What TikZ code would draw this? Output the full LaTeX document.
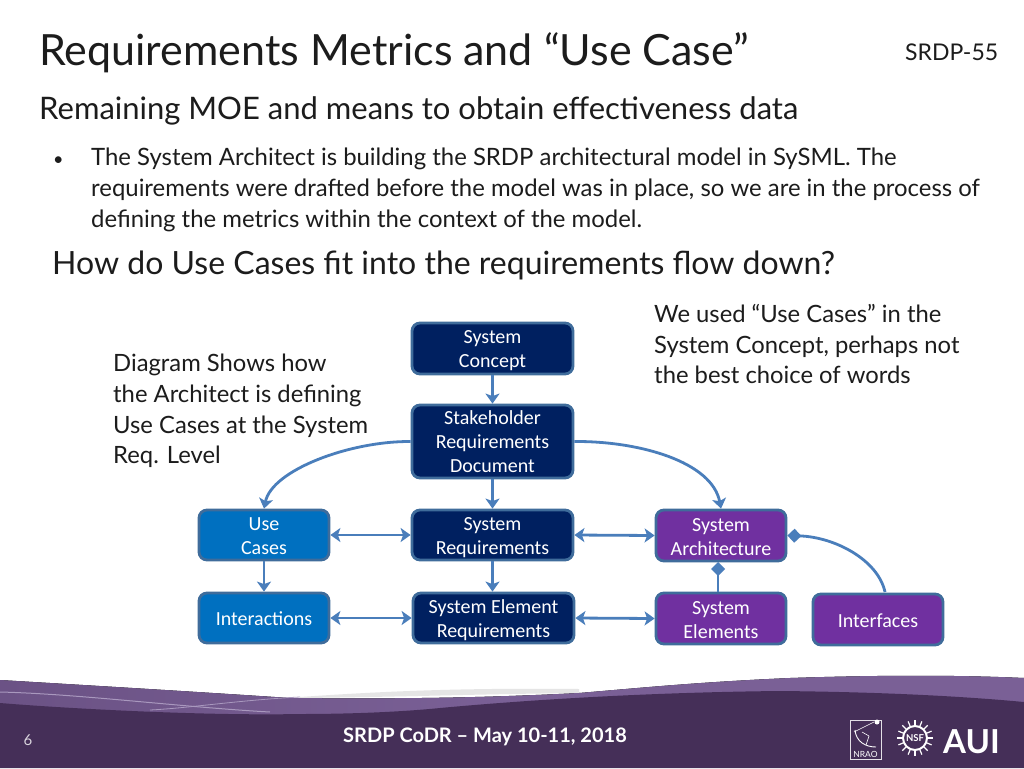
\documentclass[tikz,border=0pt]{standalone}
\usepackage{fontspec}
\setmainfont{Lato}
\newfontfamily\labelfont{Carlito}
\usetikzlibrary{arrows.meta}
\definecolor{navybox}{HTML}{002060}
\definecolor{bluebox}{HTML}{0070C0}
\definecolor{purplebox}{HTML}{7030A0}
\definecolor{edgeblue}{HTML}{3F6C9B}
\definecolor{linkblue}{HTML}{4A7EBB}
\definecolor{inktext}{HTML}{1C1C1C}
\definecolor{footdark}{HTML}{452F58}
\definecolor{footmid}{HTML}{7A6096}
\definecolor{footleft}{HTML}{6B5285}
\definecolor{footlight}{HTML}{A998BE}
\newcommand\dn[2]{\raisebox{-#1}[\height][\depth]{#2}}
\tikzset{
  x=1pt,y=-1pt,
  flowbox/.style={draw=edgeblue,line width=2.8pt,rounded corners=8pt,text=white,align=center,
    inner sep=0pt,font=\labelfont\fontsize{20}{24}\selectfont},
  navy/.style={flowbox,fill=navybox,minimum width=161pt},
  blue/.style={flowbox,fill=bluebox,minimum width=130pt,minimum height=50pt},
  purple/.style={flowbox,fill=purplebox,minimum width=130pt,minimum height=50pt},
  link/.style={draw=linkblue,line width=2.8pt},
  one/.style={link,-{Stealth[length=10pt,width=14pt,inset=2.5pt]}},
  both/.style={link,{Stealth[length=10pt,width=14pt,inset=2.5pt]}-{Stealth[length=10pt,width=14pt,inset=2.5pt]}},
  dia/.style={link,-{Diamond[length=14pt,width=14pt]}},
  body/.style={anchor=base west,inner sep=0pt,text=inktext,align=left},
}
\begin{document}
\begin{tikzpicture}
\useasboundingbox (0,0) rectangle (1024,768);
\fill[white] (0,0) rectangle (1024,768);
% footer
\fill[gray!20] (300,697) .. controls (400,690) and (480,688) .. (579,689) -- (579,693) .. controls (480,694) and (400,697) .. (300,698) -- cycle;
\fill[left color=footleft,right color=footmid,middle color=footmid] (0,680) .. controls (100,686) and (200,692) .. (290,698) .. controls (400,699) and (480,698) .. (579,693) .. controls (650,687) and (700,682) .. (790,678) .. controls (880,675) and (960,675) .. (1024,678) -- (1024,720) -- (0,720) -- cycle;
\draw[footlight,line width=1pt] (0,692) .. controls (80,694) and (180,707) .. (270,712);
\draw[footlight,line width=.8pt] (150,710) .. controls (190,708) and (240,700) .. (300,697);
\fill[footdark] (0,703) .. controls (60,708) and (200,716) .. (300,714) .. controls (350,714) and (400,712) .. (440,708) .. controls (560,697) and (680,692) .. (780,691) .. controls (880,692) and (960,696) .. (1024,702) -- (1024,768) -- (0,768) -- cycle;
% titles
\node[body,font=\fontsize{43}{50}\selectfont] (title) at (39,65) {Requirements Metrics and “Use Case”};
\node[body,font=\fontsize{23}{28}\selectfont] (tag) at (905,60) {SRDP-55};
\node[body,font=\fontsize{31}{36}\selectfont] (sub) at (39,119) {Remaining MOE and means to obtain effectiveness data};
\node[body,font=\fontsize{18}{31}\selectfont] (bullet) at (53,165) {•};
\node[body,font=\fontsize{23.9}{31}\selectfont,anchor=north west] (para) at (91,148) {The System Architect is building the SRDP architectural model in SySML. The\\requirements were drafted before the model was in place, so we are in the process of\\defining the metrics within the context of the model.};
\node[body,font=\fontsize{32}{38}\selectfont] (q) at (52,274) {How do Use Cases fit into the requirements flow down?};
\node[body,font=\fontsize{23.8}{30.7}\selectfont,anchor=north west] (left) at (113,354) {Diagram Shows how\\the Architect is defining\\Use Cases at the System\\Req. Level};
\node[body,font=\fontsize{23.8}{30.7}\selectfont,anchor=north west] (right) at (654,304) {We used “Use Cases” in the\\System Concept, perhaps not\\the best choice of words};
% boxes
\node[navy,minimum height=51pt] (concept) at (492.5,348.5) {\dn{2pt}{System}\\\dn{2pt}{Concept}};
\node[navy,minimum height=73pt] (stake) at (492.5,441.5) {Stakeholder\\Requirements\\Document};
\node[navy,minimum height=50pt] (sysreq) at (492.5,535) {\dn{3pt}{System}\\\dn{3pt}{Requirements}};
\node[navy,minimum height=50pt] (elemreq) at (493.5,618) {\dn{2pt}{System Element}\\\dn{2pt}{Requirements}};
\node[blue] (use) at (264,535) {\dn{1pt}{Use}\\\dn{1pt}{Cases}};
\node[blue] (inter) at (264,618) {\dn{1pt}{Interactions}};
\node[purple,minimum height=51pt] (arch) at (721,535.5) {\dn{2pt}{System}\\\dn{2pt}{Architecture}};
\node[purple,minimum height=51pt] (elems) at (721,618.5) {\dn{2pt}{System}\\\dn{2pt}{Elements}};
\node[purple,minimum height=51pt] (ifaces) at (878,619.5) {\dn{1pt}{Interfaces}};
% connectors
\draw[one] (concept.south) -- (stake.north);
\draw[one] (stake.south) -- (sysreq.north);
\draw[one] (sysreq.south) -- (elemreq.north -| sysreq.south);
\draw[one] (use.south) -- (inter.north);
\draw[both] (use.east) -- (sysreq.west);
\draw[both] (inter.east) -- (elemreq.west);
\draw[both] (sysreq.east) -- (arch.west);
\draw[both] (elemreq.east) -- (elems.west);
\draw[one] (stake.west) .. controls (350,441) and (272,470) .. (use.north);
\draw[one] (stake.east) .. controls (640,441) and (712,462) .. (arch.north);
\draw[dia] (718,592) -- (718,562);
\draw[dia] (885,592) .. controls (878,560) and (835,537) .. (arch.east);
% footer text
\node[anchor=base,inner sep=0pt,text=white,font=\bfseries\fontsize{20}{24}\selectfont] (foot) at (485,742) {SRDP CoDR – May 10-11, 2018};
\node[anchor=base,inner sep=0pt,text=white!80!footdark,font=\fontsize{15}{18}\selectfont] (num) at (28,745) {6};
% logos
\draw[white!85!footdark,line width=.6pt] (850,720) rectangle (881,759);
\node[anchor=base,inner sep=0pt,text=white,font=\fontsize{8.5}{10}\selectfont] (nrao) at (865.5,757) {NRAO};
\draw[white,line width=.9pt] (855,730) .. controls (856,742) and (866,747) .. (876,747);
\draw[white,line width=.6pt] (854,732) -- (874,722) (862,732) -- (869,736) (869,736) -- (866,745);
\fill[white] (877,722) circle (2.5pt);
\foreach \a in {0,22.5,...,337.5}{\draw[white,line width=1.2pt] (915,738) ++(\a:13) -- ++(\a:5);}
\draw[white,line width=2pt] (915,738) circle (12pt);
\node[inner sep=0pt,text=white,font=\bfseries\fontsize{9.5}{12}\selectfont] (nsf) at (915,738) {NSF};
\node[anchor=base west,inner sep=0pt,text=white,font=\bfseries\fontsize{33}{36}\selectfont] (aui) at (943,753) {AUI};
\end{tikzpicture}
\end{document}
